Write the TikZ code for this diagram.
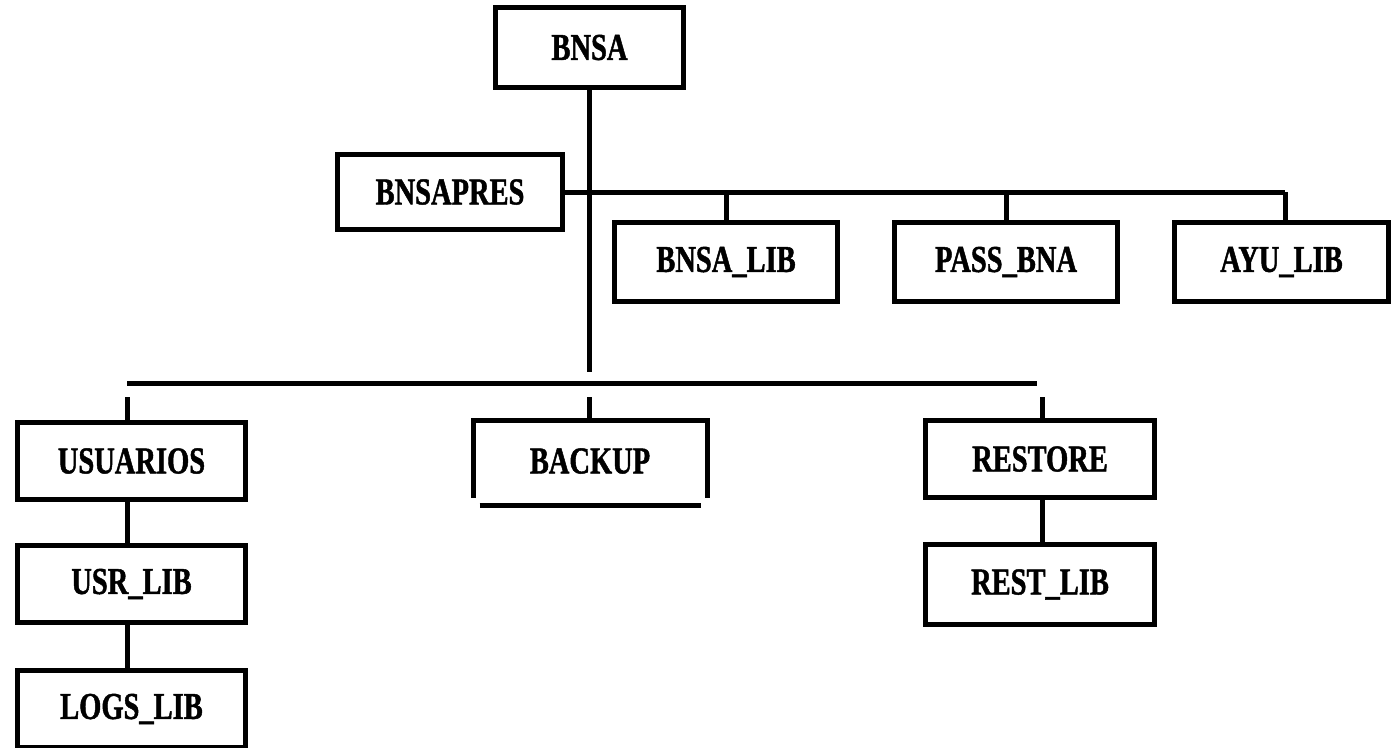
\documentclass[tikz,border=0pt]{standalone}
\usepackage{fontspec}
\newfontfamily\boxfont[FakeStretch=0.75,FakeBold=1.2]{Liberation Serif}
\begin{document}
\begin{tikzpicture}[x=1pt,y=-1pt,
  box/.style={draw,line width=5pt,inner sep=0pt,minimum height=77pt,
    font=\boxfont\bfseries\fontsize{38}{38}\selectfont},
  conn/.style={line width=5pt}]
\useasboundingbox (0,0) rectangle (1391,747);
\clip (0,0) rectangle (1391,747);
% nodes
\node[box,minimum width=188pt,minimum height=80pt] (bnsa) at (589.5,47.5) {BNSA};
\node[box,minimum width=225pt,minimum height=75pt] (bnsapres) at (450,192) {BNSAPRES};
\node[box,minimum width=223pt,minimum height=79pt] (bnsalib) at (726,262) {BNSA\_LIB};
\node[box,minimum width=223pt,minimum height=79pt] (pass) at (1006,262) {PASS\_BNA};
\node[box,minimum width=214pt,minimum height=79pt] (ayu) at (1281.5,262) {AYU\_LIB};
\node[box,minimum width=228pt] (usu) at (131.5,461) {USUARIOS};
\node[box,minimum width=228pt] (usrlib) at (131.5,584) {USR\_LIB};
\node[box,minimum width=228pt] (logs) at (131.5,709) {LOGS\_LIB};
\node[box,draw=none,minimum width=229pt] (backup) at (590,461) {BACKUP};
\node[box,minimum width=229pt] (restore) at (1040,459) {RESTORE};
\node[box,minimum width=229pt,minimum height=80pt] (restlib) at (1040,584.5) {REST\_LIB};
% BACKUP open box
\draw[conn] ([yshift=4.5pt]backup.south west) -- (backup.north west) -- (backup.north east) -- ([yshift=4.5pt]backup.south east);
\draw[conn] ([xshift=6.5pt,yshift=-3.5pt]backup.south west) -- ([xshift=-6.5pt,yshift=-3.5pt]backup.south east);
% coordinates
\coordinate (trunkEnd) at (589.5,372);
\coordinate (hR) at (1285,192);
\coordinate (busL) at (127,383);
\coordinate (busR) at (1037,383);
\coordinate (dU) at (127,397);
\coordinate (dB) at (589,397);
\coordinate (dR) at (1042,397);
% connectors
\draw[conn] (bnsa.south) -- (trunkEnd);
\draw[conn] (bnsapres.east) -- (hR);
\draw[conn] (bnsalib.north |- hR) -- (bnsalib.north);
\draw[conn] (pass.north |- hR) -- (pass.north);
\draw[conn] (hR) -- (hR |- ayu.north);
\draw[conn] (busL) -- (busR);
\draw[conn] (dU) -- (dU |- usu.north);
\draw[conn] (dB) -- (dB |- backup.north);
\draw[conn] (dR) -- (dR |- restore.north);
\draw[conn] (dU |- usu.south) -- (dU |- usrlib.north);
\draw[conn] (dU |- usrlib.south) -- (dU |- logs.north);
\draw[conn] (dR |- restore.south) -- (dR |- restlib.north);
\end{tikzpicture}
\end{document}
